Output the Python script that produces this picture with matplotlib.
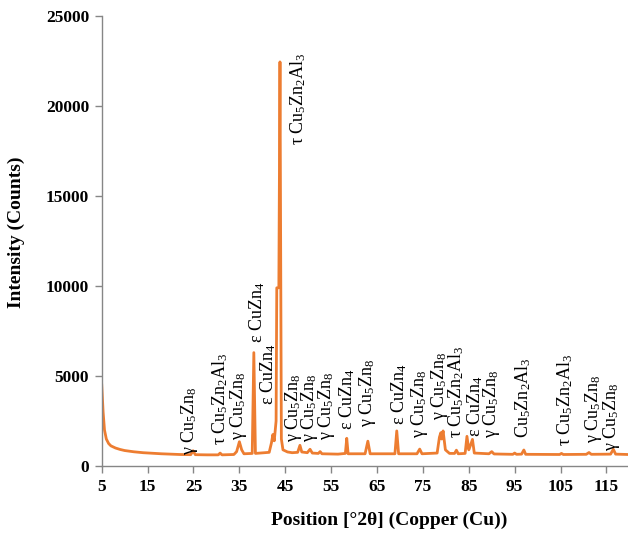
import matplotlib
matplotlib.use("Agg")
import matplotlib.pyplot as plt

plt.rcParams["font.family"] = ["Liberation Serif", "DejaVu Serif"]
plt.rcParams["mathtext.default"] = "regular"

# Diffractogram trace (2theta in degrees, intensity in counts)
two_theta = [
    5.0, 5.3, 5.6, 6.0, 6.5, 7.0, 8.0, 9.0, 10.0, 12.0, 14.0, 16.0, 18.0,
    20.0, 22.0, 24.4, 24.9, 25.4, 28.0, 30.4, 30.8, 31.2, 33.8, 34.4, 35.0,
    35.5, 36.0, 37.8, 38.15, 38.5, 41.5, 42.0, 42.3, 42.6, 43.0, 43.15,
    43.6, 43.85, 44.15, 44.5, 45.5, 46.5, 47.7, 48.2, 48.6, 49.8, 50.4,
    50.9, 52.2, 52.6, 53.0, 56.5, 58.1, 58.4, 58.7, 62.4, 63.0, 63.5,
    68.9, 69.3, 69.7, 73.7, 74.3, 74.8, 78.1, 78.6, 78.9, 79.1, 79.4,
    79.9, 80.8, 81.9, 82.3, 82.7, 84.2, 84.6, 85.0, 85.3, 85.8, 86.2,
    89.4, 90.0, 90.5, 94.6, 95.0, 95.4, 96.5, 97.0, 97.4, 104.8, 105.2,
    105.6, 110.6, 111.2, 111.7, 115.9, 116.5, 117.0, 119.7,
]
counts = [
    4500, 3000, 2000, 1500, 1250, 1120, 1000, 920, 860, 790, 740, 710, 680,
    660, 640, 630, 850, 630, 620, 620, 720, 620, 640, 800, 1350,
    900, 680, 700, 6300, 700, 760, 1300, 1750, 1400, 2500, 9900,
    9900, 22450, 1500, 900, 780, 740, 760, 1150, 780, 740, 930,
    720, 700, 800, 680, 660, 700, 1540, 680, 680, 1380, 680,
    680, 1950, 680, 680, 940, 680, 720, 1600, 1850, 1500, 1950,
    900, 700, 700, 880, 680, 700, 1650, 900, 1100, 1480, 720,
    680, 800, 670, 650, 720, 650, 660, 890, 650, 640, 700,
    640, 650, 750, 650, 660, 930, 660, 640,
]

# Phase labels: text, 2theta, intensity at the foot of the label
G = r"γ Cu$_5$Zn$_8$"
E = r"ε CuZn$_4$"
T = r"τ Cu$_5$Zn$_2$Al$_3$"
label_text = [G, T, G, E, E, T, G, G, G, E, G, E, G, G, T, E, G,
              r"Cu$_5$Zn$_2$Al$_3$", T, G, G]
label_pos = [24.2, 30.8, 34.8, 38.9, 41.3, 47.8, 46.7, 50.2, 53.9, 58.4,
             62.9, 69.8, 74.3, 78.7, 82.3, 86.3, 90.0, 96.9, 105.9, 112.1,
             116.1]
label_base = [610, 1170, 1440, 6830, 3390, 17830, 1330, 1330, 1440, 2000,
              2170, 2280, 1560, 2560, 1560, 1610, 1560, 1560, 1110, 1280,
              830]

fig = plt.figure(figsize=(6.28, 5.41), dpi=100)
ax = fig.add_axes([0.162, 0.1386, 0.838, 0.8318])

ax.plot(two_theta, counts, color="#ED7D31", lw=2.0, solid_joinstyle="round")

for txt, x, y in zip(label_text, label_pos, label_base):
    ax.text(x, y, txt, rotation=90, ha="center", va="bottom", fontsize=13,
            color="black")

ax.set_xlim(5, 119.7)
ax.set_ylim(0, 25000)
ax.set_xticks(range(5, 120, 10))
ax.set_yticks(range(0, 25001, 5000))

for side in ("top", "right"):
    ax.spines[side].set_visible(False)
for side in ("left", "bottom"):
    ax.spines[side].set_color("#868686")
    ax.spines[side].set_linewidth(1.0)
ax.tick_params(direction="out", length=5, width=1.0, color="#868686",
               labelsize=12.5, pad=4)
for lab in ax.get_xticklabels() + ax.get_yticklabels():
    lab.set_fontweight("bold")

ax.set_xlabel("Position [°2θ] (Copper (Cu))", fontsize=14, fontweight="bold")
ax.xaxis.set_label_coords(0.546, -0.102)
ax.set_ylabel("Intensity (Counts)", fontsize=14, fontweight="bold")
ax.yaxis.set_label_coords(-0.145, 0.52)

fig.savefig("out.png", dpi=100)
